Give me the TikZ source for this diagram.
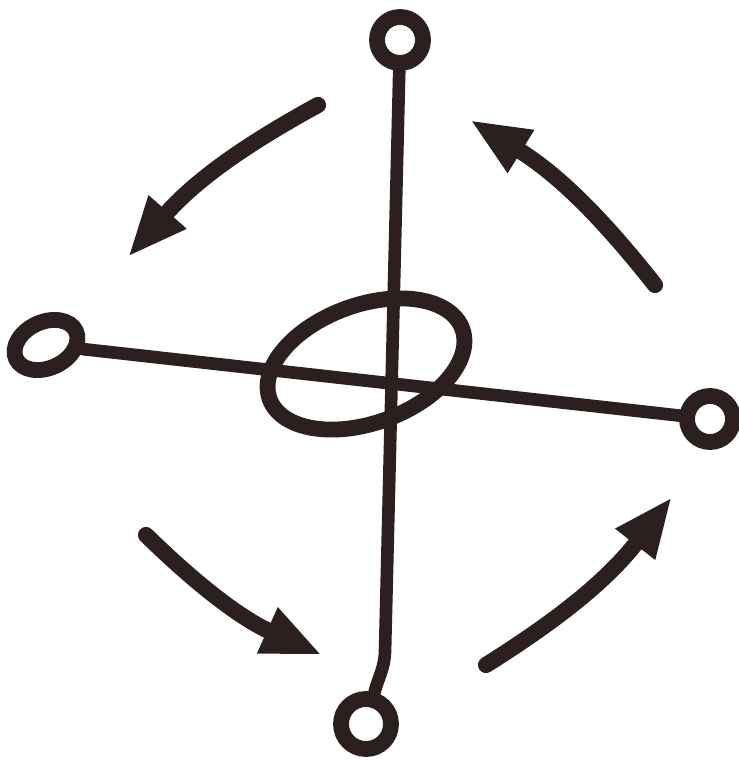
\documentclass[tikz,border=0pt]{standalone}
\usepackage{tikz}
\usetikzlibrary{arrows.meta,shapes.geometric}
\definecolor{Ink}{HTML}{2B1F20}
\begin{document}
\begin{tikzpicture}[
  ring/.style={circle,draw=Ink,line width=4.5pt,minimum size=0.46cm,inner sep=0pt},
  spoke/.style={draw=Ink,line width=3.6pt,line cap=round},
  turn/.style={draw=Ink,line width=4.6pt,line cap=round,bend right=10,-{Triangle[length=0.6cm,width=0.46cm]}}
]
\useasboundingbox (0,0) rectangle (7.39,7.62);
\node[ring] (top) at (4.00,7.22) {};
\node[ring,minimum size=0.5cm] (bot) at (3.66,0.38) {};
\node[ring,ellipse,minimum width=0.66cm,minimum height=0.46cm,rotate=25] (lft) at (0.46,4.17) {};
\node[ring] (rgt) at (7.10,3.43) {};
\draw[spoke] (top) -- (3.85,1.10) to[out=-92,in=75] (bot);
\draw[spoke] (lft) -- (rgt);
\node[draw=Ink,line width=4.5pt,ellipse,minimum width=2.05cm,minimum height=1.18cm,rotate=20] (hub) at (3.66,3.98) {};
% turning arrows
\coordinate (a1) at (3.18,6.57); \coordinate (a2) at (1.28,5.05);
\coordinate (b1) at (1.46,2.27); \coordinate (b2) at (3.22,1.07);
\coordinate (c1) at (4.86,0.97); \coordinate (c2) at (6.72,2.65);
\coordinate (d1) at (6.55,4.77); \coordinate (d2) at (4.70,6.42);
\draw[turn] (a1) to (a2);
\draw[turn] (b1) to (b2);
\draw[turn] (c1) to (c2);
\draw[turn] (d1) to (d2);
\end{tikzpicture}
\end{document}
